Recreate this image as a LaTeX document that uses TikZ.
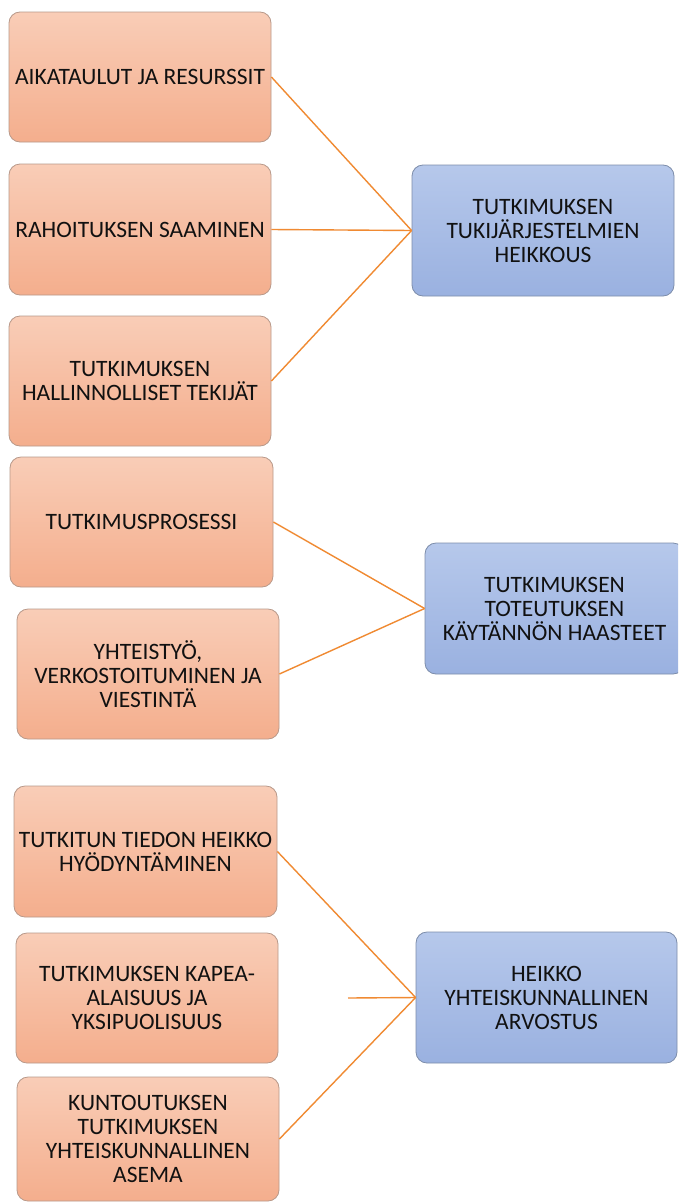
\documentclass[tikz,border=0pt]{standalone}
\usepackage{fontspec}
\setmainfont{Carlito}
\definecolor{otop}{HTML}{F9CDB7}
\definecolor{obot}{HTML}{F4AE8D}
\definecolor{oline}{HTML}{B8998A}
\definecolor{btop}{HTML}{B6C8EB}
\definecolor{bbot}{HTML}{9AB1E0}
\definecolor{bline}{HTML}{7D8DAA}
\definecolor{link}{HTML}{F08A32}
\definecolor{txt}{HTML}{111111}
\tikzset{
  obox/.style={draw=oline, line width=0.8pt, rounded corners=11pt, top color=otop, bottom color=obot,
    align=center, text=txt, font=\fontsize{23.5}{24}\selectfont, inner sep=0pt},
  bbox/.style={draw=bline, line width=0.8pt, rounded corners=11pt, top color=btop, bottom color=bbot,
    align=center, text=txt, font=\fontsize{23.5}{24}\selectfont, inner sep=0pt},
  linkline/.style={draw=link, line width=1.4pt}
}
\begin{document}
\begin{tikzpicture}[x=1pt,y=-1pt]
\useasboundingbox (0,0) rectangle (678,1202);
\clip (0,0) rectangle (678,1202);
\fill[white] (0,0) rectangle (678,1202);
% orange boxes
\node[obox, minimum width=262pt, minimum height=130pt] (o1) at (140,77) {AIKATAULUT JA RESURSSIT};
\node[obox, minimum width=262pt, minimum height=131pt] (o2) at (140,229.5) {RAHOITUKSEN SAAMINEN};
\node[obox, minimum width=262pt, minimum height=130pt] (o3) at (140,381) {TUTKIMUKSEN\\HALLINNOLLISET TEKIJÄT};
\node[obox, minimum width=263pt, minimum height=130pt] (o4) at (141.5,522) {TUTKIMUSPROSESSI};
\node[obox, minimum width=262pt, minimum height=130pt] (o5) at (148,674) {YHTEISTYÖ,\\VERKOSTOITUMINEN JA\\VIESTINTÄ};
\node[obox, minimum width=263pt, minimum height=131pt] (o6) at (145.5,851.5) {TUTKITUN TIEDON HEIKKO\\HYÖDYNTÄMINEN};
\node[obox, minimum width=262pt, minimum height=130pt] (o7) at (147,998) {TUTKIMUKSEN KAPEA-\\ALAISUUS JA\\YKSIPUOLISUUS};
\node[obox, minimum width=262pt, minimum height=124pt] (o8) at (148,1139) {KUNTOUTUKSEN\\TUTKIMUKSEN\\YHTEISKUNNALLINEN\\ASEMA};
% blue boxes
\node[bbox, minimum width=262pt, minimum height=131pt] (b1) at (543,230.5) {TUTKIMUKSEN\\TUKIJÄRJESTELMIEN\\HEIKKOUS};
\node[bbox, minimum width=259pt, minimum height=131pt] (b2) at (554.5,608.5) {TUTKIMUKSEN\\TOTEUTUKSEN\\KÄYTÄNNÖN HAASTEET};
\node[bbox, minimum width=261pt, minimum height=131pt] (b3) at (546.5,997.5) {HEIKKO\\YHTEISKUNNALLINEN\\ARVOSTUS};
\coordinate (free) at (348,998);
% connectors
\draw[linkline] (o1.east) -- (b1.west);
\draw[linkline] (o2.east) -- (b1.west);
\draw[linkline] (o3.east) -- (b1.west);
\draw[linkline] (o4.east) -- (b2.west);
\draw[linkline] (o5.east) -- (b2.west);
\draw[linkline] (o6.east) -- (b3.west);
\draw[linkline] (free) -- (b3.west);
\draw[linkline] (o8.east) -- (b3.west);
\end{tikzpicture}
\end{document}
